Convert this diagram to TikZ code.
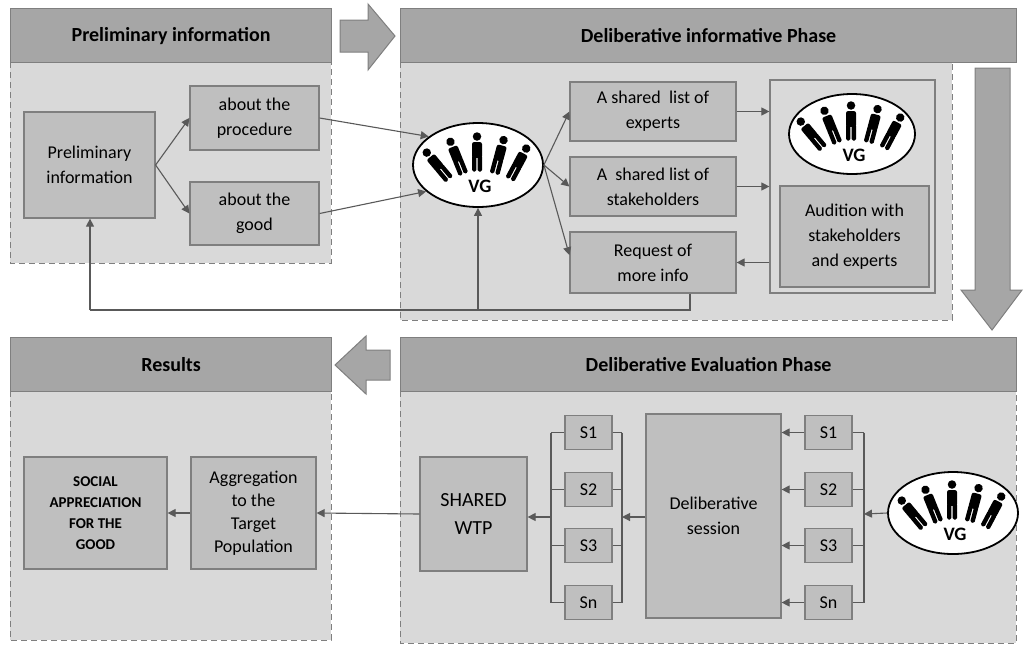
\documentclass[tikz,border=0pt]{standalone}
\usepackage{fontspec}
\setmainfont{Carlito}
\usetikzlibrary{arrows.meta,shapes.geometric}
\definecolor{panel}{HTML}{D9D9D9}
\definecolor{head}{HTML}{A6A6A6}
\definecolor{boxf}{HTML}{BFBFBF}
\definecolor{bord}{HTML}{7F7F7F}
\definecolor{line}{HTML}{595959}
\tikzset{
 hdr/.style={draw=bord,line width=1.2pt,fill=head,font=\bfseries\fontsize{20}{22}\selectfont},
 pnl/.style={draw=bord,dash pattern=on 6pt off 4pt,line width=1pt,fill=panel},
 box/.style={draw=bord,line width=1.2pt,fill=boxf,align=center,inner sep=0pt,font=\fontsize{18}{25}\selectfont},
 sbox/.style={box,minimum width=47pt,minimum height=34pt},
 vg/.style={ellipse,draw=black,line width=1.8pt,fill=white,inner sep=0pt},
 con/.style={draw=line,line width=1.1pt,-{Triangle[length=8pt,width=8pt]}},
 lin/.style={draw=line,line width=1.1pt},
 bigar/.style={draw=bord,line width=1pt,fill=head},
}
\newcommand{\myperson}[3]{\begin{scope}[shift={(#1,#2)},rotate=#3,scale=1.25]
 \fill (0,-14) circle (3.4);
 \fill[rounded corners=2pt] (-4,-9.5) rectangle (4,3);
 \fill[rounded corners=1.5pt] (-4,1) rectangle (-0.5,14);
 \fill[rounded corners=1.5pt] (0.5,1) rectangle (4,14);
 \end{scope}}
\newcommand{\mypeople}[2]{%
 \myperson{#1-40}{#2+2}{40}\myperson{#1-21}{#2-6}{22}\myperson{#1-1}{#2-10}{0}%
 \myperson{#1+21}{#2-7}{-15}\myperson{#1+40}{#2}{-28}%
 \node[font=\bfseries\fontsize{19}{22}\selectfont] at (#1+2,#2+22) {VG};}
\begin{document}
\begin{tikzpicture}[x=1pt,y=-1pt]
\useasboundingbox (0,0) rectangle (1024,646);
% panels
\draw[pnl] (10,62) rectangle (331,263);
\draw[pnl] (400,62) rectangle (952,320);
\draw[pnl] (10,391) rectangle (331,640);
\draw[pnl] (400,391) rectangle (1016,643);
\node[hdr,minimum width=321pt,minimum height=54pt,anchor=north west] (h1) at (10,8) {Preliminary information};
\node[hdr,minimum width=616pt,minimum height=54pt,anchor=north west] (h2) at (400,8) {Deliberative informative Phase};
\node[hdr,minimum width=321pt,minimum height=54pt,anchor=north west] (h3) at (10,337) {Results};
\node[hdr,minimum width=616pt,minimum height=54pt,anchor=north west] (h4) at (400,337) {Deliberative Evaluation Phase};
% big arrows
\draw[bigar] (340,20)--(368,20)--(368,4)--(395,36)--(368,70)--(368,52)--(340,52)--cycle;
\draw[bigar] (975,68)--(1010,68)--(1010,290)--(1022,290)--(992,330)--(961,290)--(975,290)--cycle;
\draw[bigar] (390,350)--(366,350)--(366,336)--(335,365)--(366,394)--(366,380)--(390,380)--cycle;
% top left
\node[box,minimum width=131pt,minimum height=106pt] (pi) at (89.5,165) {Preliminary\\information};
\node[box,minimum width=129pt,minimum height=64pt] (pro) at (254.5,118) {about the\\procedure};
\node[box,minimum width=129pt,minimum height=63pt] (good) at (254.5,213.5) {about the\\good};
\node[vg,minimum width=130pt,minimum height=84pt] (vg1) at (478,165) {};
\mypeople{478}{164}
\node[box,minimum width=166pt,minimum height=59pt] (exp) at (653,111.5) {A shared\ \ list of\\experts};
\node[box,minimum width=166pt,minimum height=59pt] (stk) at (653,186.5) {A\ \ shared list of\\stakeholders};
\node[box,minimum width=166pt,minimum height=61pt] (req) at (653,262.5) {Request of\\more info};
\node[draw=bord,line width=1.2pt,fill=panel,minimum width=165pt,minimum height=213pt,inner sep=0pt] (big) at (852.5,186.5) {};
\node[vg,minimum width=126pt,minimum height=80pt] (vg2) at (852,134) {};
\mypeople{852}{133}
\node[box,minimum width=149pt,minimum height=101pt] (aud) at (854.5,236.5) {Audition with\\stakeholders\\and experts};
\draw[con] (pi.east) -- (pro.west);
\draw[con] (pi.east) -- (good.west);
\draw[con] (pro.east) -- (vg1.150);
\draw[con] (good.east) -- (vg1.207);
\draw[con] (vg1.east) -- (exp.west);
\draw[con] (vg1.east) -- (stk.west);
\draw[con] (vg1.east) -- (req.175);
\draw[con] (exp.east) -- (exp.east -| big.west);
\draw[con] (stk.east) -- (stk.east -| big.west);
\draw[con] (big.west |- req.east) -- (req.east);
\coordinate (c1) at (690,310);
\coordinate (c2) at (90,310);
\coordinate (c3) at (478,310);
\draw[lin] (req.south -| c1) -- (c1) -- (c2);
\draw[con] (c2) -- (pi.south -| c2);
\draw[con] (c3) -- (vg1.south);
% bottom
\node[box,minimum width=143pt,minimum height=112pt,font=\bfseries\fontsize{15}{21}\selectfont] (soc) at (95.5,513) {SOCIAL\\APPRECIATION\\FOR THE\\GOOD};
\node[box,minimum width=125pt,minimum height=112pt,font=\fontsize{18}{23}\selectfont] (agg) at (253.5,513) {Aggregation\\to the\\Target\\Population};
\node[box,minimum width=107pt,minimum height=114pt,font=\fontsize{20}{28}\selectfont] (wtp) at (473.5,514) {SHARED\\WTP};
\node[box,minimum width=135pt,minimum height=204pt] (ds) at (713.5,516) {Deliberative\\session};
\foreach \n/\t/\y in {1/S1/432.5,2/S2/489.5,3/S3/545.5,4/Sn/602.5}{
 \node[sbox] (l\n) at (588.5,\y) {\t};
 \node[sbox] (r\n) at (828.5,\y) {\t};
 \draw[lin] (551,\y) -- (l\n.west);
 \draw[lin] (l\n.east) -- (622,\y);
 \draw[lin] (r\n.east) -- (864,\y);
 \draw[con] (r\n.west) -- (r\n.west -| ds.east);
}
\draw[lin] (551,432.5) -- (551,602.5);
\draw[lin] (622,432.5) -- (622,602.5);
\draw[lin] (864,432.5) -- (864,602.5);
\node[vg,minimum width=130pt,minimum height=82pt] (vg3) at (953,513) {};
\mypeople{953}{512}
\coordinate (bl) at (551,517);
\coordinate (br) at (622,517);
\coordinate (bv) at (864,514);
\draw[con] (vg3.west) -- (bv);
\draw[con] (ds.west |- br) -- (br);
\draw[con] (bl) -- (wtp.east |- bl);
\draw[con] (wtp.west) -- (agg.east);
\draw[con] (agg.west) -- (soc.east);
\end{tikzpicture}
\end{document}
